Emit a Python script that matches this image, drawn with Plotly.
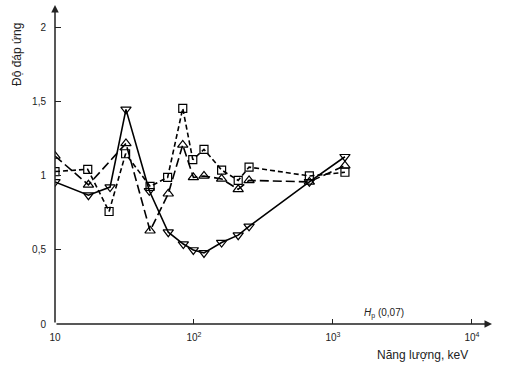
import plotly.graph_objects as go

# Energy (keV) for each series
x_solid = [10, 17.4, 24.9, 32.4, 47.7, 65.3, 83.8, 98.9, 118, 158, 208, 249, 676, 1219]
y_solid = [0.96, 0.87, 0.925, 1.45, 0.90, 0.62, 0.54, 0.50, 0.48, 0.55, 0.60, 0.66, 0.96, 1.13]

x_up = [10, 17.4, 32.4, 48.3, 65.3, 83, 99, 118, 158, 208, 249, 676, 1219]
y_up = [1.135, 0.94, 1.22, 0.63, 0.88, 1.21, 0.99, 1.0, 0.98, 0.91, 0.97, 0.96, 1.07]

x_sq = [10, 17.2, 24.5, 32.2, 48.3, 64.6, 83, 98, 118, 158, 208, 249, 676, 1219]
y_sq = [1.03, 1.045, 0.76, 1.15, 0.93, 0.99, 1.457, 1.11, 1.18, 1.04, 0.97, 1.06, 1.0, 1.025]

x_tickvals = [10, 100, 1000, 10000]
x_ticktext = ["10", "10<sup>2</sup>", "10<sup>3</sup>", "10<sup>4</sup>"]
y_tickvals = [0, 0.5, 1, 1.5, 2]
y_ticktext = ["0", "0,5", "1", "1,5", "2"]

fig = go.Figure()
fig.add_trace(go.Scatter(x=x_sq, y=y_sq, mode="lines+markers",
                         line=dict(color="black", width=1.6, dash="5px,3px"),
                         marker=dict(symbol="square-open", size=8, color="black", line=dict(width=1.2))))
fig.add_trace(go.Scatter(x=x_up, y=y_up, mode="lines+markers",
                         line=dict(color="black", width=1.6, dash="9px,4px"),
                         marker=dict(symbol="triangle-up-open", size=9, color="black", line=dict(width=1.2))))
fig.add_trace(go.Scatter(x=x_solid, y=y_solid, mode="lines+markers",
                         line=dict(color="black", width=1.6),
                         marker=dict(symbol="triangle-down-open", size=9, color="black", line=dict(width=1.2))))

font = dict(family="Liberation Sans, Arial, sans-serif", size=10, color="#222")

fig.update_layout(
    width=505, height=372,
    margin=dict(l=55, r=13, t=5, b=48),
    paper_bgcolor="white", plot_bgcolor="white",
    showlegend=False,
    font=font,
    xaxis=dict(type="log", range=[1, 4.144], tickvals=x_tickvals, ticktext=x_ticktext,
               ticks="inside", ticklen=5, tickcolor="#222", showgrid=False, zeroline=False,
               showline=False, tickfont=dict(size=10), ticklabelstandoff=6),
    yaxis=dict(range=[0, 2.155], tickvals=y_tickvals, ticktext=y_ticktext,
               ticks="inside", ticklen=6, tickcolor="#222", showgrid=False, zeroline=False,
               showline=False, tickfont=dict(size=10), ticklabelstandoff=8),
)

# axis lines with arrows
fig.add_annotation(x=4.144, y=0, ax=1, ay=0, xref="x", yref="y", axref="x", ayref="y",
                   showarrow=True, arrowhead=2, arrowsize=1, arrowwidth=1.5, arrowcolor="#222", text="")
fig.add_annotation(x=1, y=2.155, ax=1, ay=0, xref="x", yref="y", axref="x", ayref="y",
                   showarrow=True, arrowhead=2, arrowsize=1, arrowwidth=1.5, arrowcolor="#222", text="")

fig.add_annotation(text="Độ đáp ứng", textangle=-90, x=17, y=55, xanchor="center", yanchor="middle",
                   showarrow=False, font=dict(size=12, color="#222"))
fig.add_annotation(text="Năng lượng, keV", x=470, y=355, xanchor="right", yanchor="middle",
                   showarrow=False, font=dict(size=12, color="#222"))
fig.add_annotation(text="<i>H</i><sub>p</sub> (0,07)", x=362, y=313, xanchor="left", yanchor="middle",
                   showarrow=False, font=dict(size=10, color="#222"))

# convert pixel-positioned annotations to paper coords
for a in fig.layout.annotations[2:]:
    a.xref = "paper"; a.yref = "paper"
    a.x = (a.x - 55) / (505 - 55 - 13)
    a.y = (372 - 48 - a.y) / (372 - 48 - 5)

fig.write_html("out.html", config={"displayModeBar": False},
               post_script="document.body.style.margin='0';document.body.style.overflow='hidden';")
